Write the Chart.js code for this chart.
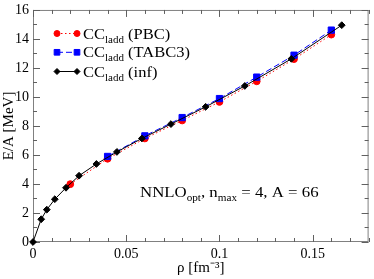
<!DOCTYPE html>
<html>
<head>
<meta charset="utf-8">
<script src="https://cdn.jsdelivr.net/npm/chart.js@4.4.0/dist/chart.umd.min.js"></script>
<style>
  html, body { margin: 0; padding: 0; background: #fff; }
  #wrap { width: 374px; height: 279px; }
</style>
</head>
<body>
<div id="wrap"><canvas id="chart"></canvas></div>
<script>
// CC ladder results, E/A in MeV vs density rho in fm^-3
const pbcRho = [0.02, 0.04, 0.06, 0.08, 0.10, 0.12, 0.14, 0.16];
const pbcE = [3.99, 5.74, 7.14, 8.38, 9.66, 11.08, 12.61, 14.30];

const tabcRho = [0.04, 0.06, 0.08, 0.10, 0.12, 0.14, 0.16];
const tabcE = [5.90, 7.32, 8.58, 9.89, 11.37, 12.88, 14.61];

const infRho = [0, 0.0044, 0.0074, 0.0117, 0.0177, 0.0247, 0.034, 0.045, 0.0584, 0.074, 0.0926, 0.1136, 0.1386, 0.1656];
const infE = [0, 1.57, 2.23, 2.95, 3.74, 4.57, 5.38, 6.21, 7.14, 8.13, 9.32, 10.76, 12.63, 14.95];

const xTickValues = [0, 0.05, 0.1, 0.15];
const xTickLabels = ['0', '0.05', '0.1', '0.15'];
const yTickValues = [0, 2, 4, 6, 8, 10, 12, 14, 16];
const yTickLabels = ['0', '2', '4', '6', '8', '10', '12', '14', '16'];

const legendNames = ['(PBC)', '(TABC3)', '(inf)'];

const serif = '"Liberation Serif", "Times New Roman", serif';

function toPoints(xs, ys) {
  return xs.map((x, i) => ({ x: x, y: ys[i] }));
}

// draws text pieces with subscripts, slightly widened like the original figure
function richText(ctx, parts, x, base, stretch) {
  ctx.save();
  ctx.translate(x, base);
  ctx.scale(stretch, 1);
  let cx = 0;
  parts.forEach(p => {
    ctx.font = p[1] + 'px ' + serif;
    ctx.fillText(p[0], cx, p[2]);
    cx += ctx.measureText(p[0]).width;
  });
  ctx.restore();
}

// frame, inward ticks on all four sides, legend and label with subscripts
const decorations = {
  id: 'decorations',
  beforeDatasetsDraw(chart) {
    const ctx = chart.ctx;
    const a = chart.chartArea;
    const xs = chart.scales.x, ys = chart.scales.y;
    ctx.save();
    ctx.strokeStyle = '#808080';
    ctx.lineWidth = 1;
    ctx.strokeRect(a.left + 0.5, a.top + 0.5, a.right - a.left - 1, a.bottom - a.top - 1);

    ctx.strokeStyle = '#606060';
    ctx.beginPath();
    for (let i = 0; i <= 18; i++) {
      const v = i / 100;
      const px = Math.round(xs.getPixelForValue(v)) + 0.5;
      const len = i % 5 === 0 ? 7 : 4;
      ctx.moveTo(px, a.bottom); ctx.lineTo(px, a.bottom - len);
      ctx.moveTo(px, a.top); ctx.lineTo(px, a.top + len);
    }
    for (let j = 0; j <= 16; j++) {
      const py = Math.round(ys.getPixelForValue(j)) + 0.5;
      const len = j % 2 === 0 ? 7 : 4;
      ctx.moveTo(a.left, py); ctx.lineTo(a.left + len, py);
      ctx.moveTo(a.right, py); ctx.lineTo(a.right - len, py);
    }
    ctx.stroke();
    ctx.restore();
  },
  afterDatasetsDraw(chart) {
    const ctx = chart.ctx;
    ctx.save();
    // legend
    const rowY = [33.5, 52.3, 71.5];
    chart.data.datasets.forEach((ds, k) => {
      const y = rowY[k];
      ctx.save();
      ctx.strokeStyle = ds.borderColor;
      ctx.lineWidth = ds.borderWidth;
      ctx.setLineDash(ds.borderDash || []);
      ctx.beginPath();
      ctx.moveTo(57, y); ctx.lineTo(77, y);
      ctx.stroke();
      ctx.restore();
      const opts = { pointStyle: ds.pointStyle, radius: ds.pointRadius - 0.4, rotation: 0, borderWidth: 1 };
      ctx.fillStyle = ds.backgroundColor;
      ctx.strokeStyle = ds.borderColor;
      Chart.helpers.drawPoint(ctx, opts, 57, y);
      Chart.helpers.drawPoint(ctx, opts, 77, y);

      ctx.fillStyle = '#000';
      ctx.textBaseline = 'alphabetic';
      ctx.textAlign = 'left';
      richText(ctx, [['CC', 15, 0], ['ladd', 10, 4], [' ' + legendNames[k], 15, 0]], 83, y + 5, 1.1);
    });

    // model label
    ctx.fillStyle = '#000';
    richText(ctx, [
      ['NNLO', 15, 0], ['opt', 10, 4], [', n', 15, 0], ['max', 10, 4], [' = 4, A = 66', 15, 0]
    ], 140, 197, 1.12);
    ctx.restore();
  }
};

new Chart(document.getElementById('chart'), {
  type: 'scatter',
  data: {
    datasets: [
      {
        label: 'CCladd (PBC)',
        data: toPoints(pbcRho, pbcE),
        showLine: true,
        borderColor: '#ff0000',
        backgroundColor: '#ff0000',
        borderWidth: 1,
        borderDash: [1.5, 2.5],
        pointStyle: 'circle',
        pointRadius: 3.4,
        order: 3
      },
      {
        label: 'CCladd (TABC3)',
        data: toPoints(tabcRho, tabcE),
        showLine: true,
        borderColor: '#0000ff',
        backgroundColor: '#0000ff',
        borderWidth: 1,
        borderDash: [6, 3],
        pointStyle: 'rect',
        pointRadius: 4.4,
        order: 2
      },
      {
        label: 'CCladd (inf)',
        data: toPoints(infRho, infE),
        showLine: true,
        clip: 4,
        borderColor: '#000000',
        backgroundColor: '#000000',
        borderWidth: 1,
        pointStyle: 'rectRot',
        pointRadius: 3.4,
        order: 1
      }
    ]
  },
  options: {
    responsive: true,
    maintainAspectRatio: false,
    animation: false,
    events: [],
    layout: { padding: { top: 0, right: 1, left: 0, bottom: 0 } },
    plugins: { legend: { display: false }, tooltip: { enabled: false } },
    scales: {
      x: {
        type: 'linear',
        min: 0,
        max: 0.18,
        afterBuildTicks: s => { s.ticks = xTickValues.map(v => ({ value: v })); },
        afterFit: s => { s.height = 37; },
        grid: { display: false, drawTicks: false, tickLength: 0 },
        border: { display: false },
        ticks: {
          color: '#000',
          padding: 4,
          maxRotation: 0,
          font: { family: serif, size: 14 },
          callback: (v) => xTickLabels[xTickValues.indexOf(v)]
        },
        title: {
          display: true,
          text: 'ρ [fm⁻³]',
          color: '#000',
          font: { family: serif, size: 15 },
          padding: { top: 0, bottom: 2 }
        }
      },
      y: {
        min: 0,
        max: 16,
        afterBuildTicks: s => { s.ticks = yTickValues.map(v => ({ value: v })); },
        afterFit: s => { s.width = 33; },
        grid: { display: false, drawTicks: false, tickLength: 0 },
        border: { display: false },
        ticks: {
          color: '#000',
          padding: 4,
          font: { family: serif, size: 14, lineHeight: 0.85 },
          callback: (v) => yTickLabels[yTickValues.indexOf(v)]
        },
        title: {
          display: true,
          text: 'E/A [MeV]',
          color: '#000',
          font: { family: serif, size: 15 },
          padding: 0
        }
      }
    }
  },
  plugins: [decorations]
});
</script>
</body>
</html>
